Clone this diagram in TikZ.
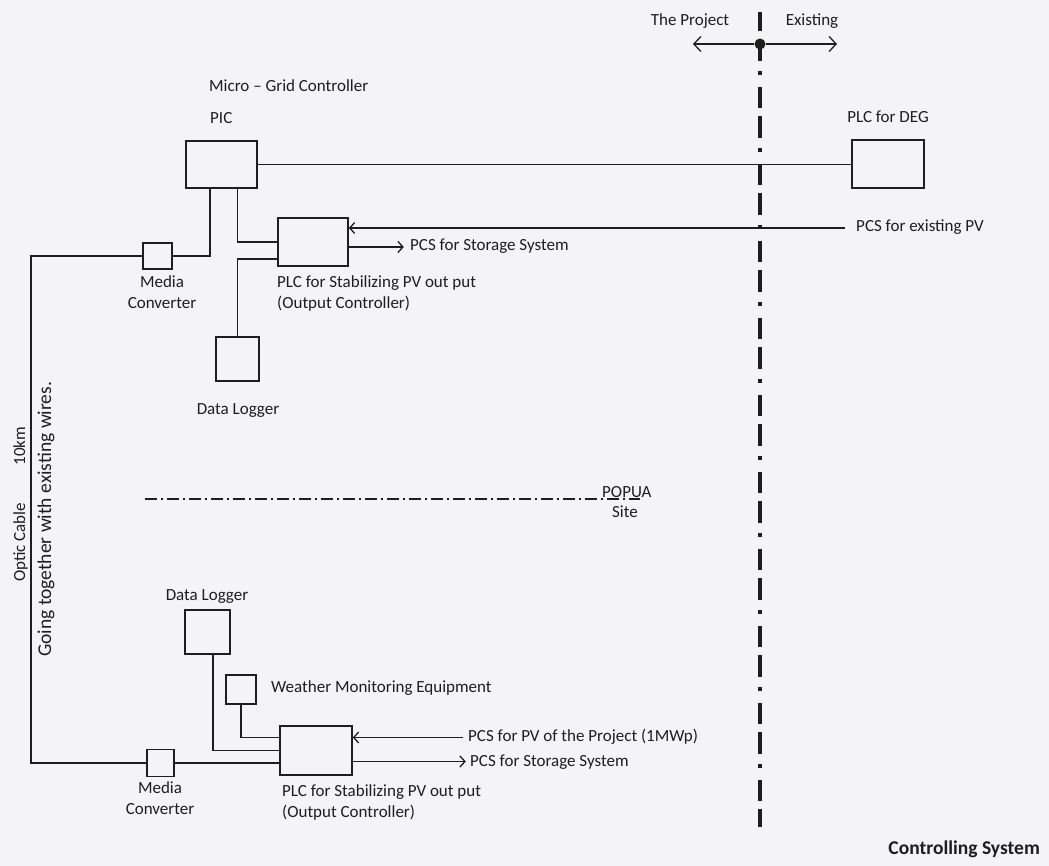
\documentclass[tikz,border=0pt]{standalone}
\usepackage{fontspec}
\setmainfont{Carlito}
\usetikzlibrary{arrows.meta}
\definecolor{ink}{HTML}{1E1E1E}
\definecolor{paper}{HTML}{F4F3F5}
\begin{document}
\begin{tikzpicture}[x=1pt,y=-1pt,
  every node/.style={inner sep=0pt, text=ink},
  lbl/.style={font=\fontsize{17}{21}\selectfont},
  unit/.style args={#1/#2}{draw=ink, line width=1.6pt, rectangle,
    minimum width=#1pt, minimum height=#2pt},
  wire/.style={draw=ink, line width=1.3pt},
  arr/.style={wire, -{Straight Barb[length=5pt,width=11pt]}},
  divider/.style={draw=ink, line width=4.5pt,
    dash pattern=on 4pt off 12pt on 21pt off 8pt on 22pt off 10pt, dash phase=18pt},
  siteline/.style={draw=ink, line width=1.2pt, dash pattern=on 12pt off 4pt on 2pt off 4pt}]

% page
\fill[paper] (0,0) rectangle (1049,866);

% project / existing boundary
\coordinate (dtop) at (760,12);
\coordinate (dbot) at (760,827);
\draw[divider] (dtop) -- (dbot);
\node[circle, fill=ink, minimum size=11pt] (hub) at (760,44) {};
\coordinate (dL) at (693,44);
\coordinate (dR) at (837,44);
\draw[wire, -{Straight Barb[length=7pt,width=15pt]}] (hub) -- (dL);
\draw[wire, -{Straight Barb[length=7pt,width=15pt]}] (hub) -- (dR);
\node[lbl, anchor=base] (tproj) at (690,26) {The Project};
\node[lbl, anchor=base] (texist) at (812,26) {Existing};

% upper equipment
\node[unit={71/47}] (pic) at (221.5,164.5) {};
\node[unit={72/48}] (deg) at (888,164) {};
\node[unit={70/48}] (plc1) at (313,242) {};
\node[unit={29/26}] (mc1) at (157.5,256) {};
\node[unit={43/44}] (dl1) at (237.5,359) {};

\node[lbl, anchor=base west] (tmgc) at (209,92) {Micro -- Grid Controller};
\node[lbl, anchor=base west] (tpic) at (210,124) {PIC};
\node[lbl, anchor=base] (tdeg) at (888,123) {PLC for DEG};
\node[lbl, anchor=base west] (texpv) at (856,232) {PCS for existing PV};
\node[lbl, anchor=base west] (tst1) at (410,251) {PCS for Storage System};
\node[lbl, anchor=base west, align=left] (tplc1) at (277,309)
  {PLC for Stabilizing PV out put\\(Output Controller)};
\node[lbl, anchor=base, align=center] (tmc1) at (162,309) {Media\\Converter};
\node[lbl, anchor=base] (tdl1) at (238,414) {Data Logger};

\draw[wire] (pic.east) -- (pic.east -| deg.west);
\draw[wire] ([xshift=-11.5pt]pic.south) |- (mc1.east);
\draw[wire] ([xshift=16pt]pic.south) |- (plc1.west);
\draw[wire] (dl1.north) |- ([yshift=-17pt]plc1.west);
\coordinate (exPV) at (845,228);
\draw[arr] (exPV) -- (exPV -| plc1.east);
\draw[arr] ([yshift=-5pt]plc1.east) -- ++(55,0);

% site boundary
\coordinate (sL) at (145,499);
\coordinate (sR) at (640,499);
\draw[siteline] (sL) -- (sR);
\node[lbl, anchor=base west] (tpopua) at (602,497) {POPUA};
\node[lbl, anchor=base] (tsite) at (625,517) {Site};

% optic cable
\coordinate (oc) at (31,0);
\node[unit={27/27}] (mc2) at (160.5,763) {};
\draw[wire] (mc1.west) -- (mc1.west -| oc) -- (mc2.west -| oc) -- (mc2.west);
\node[lbl, rotate=90, anchor=base west] (toc) at (25,582) {Optic Cable\hspace{2.2em}10km};
\node[lbl, font=\fontsize{19.5}{23}\selectfont, rotate=90, anchor=base west] (tgo) at (51,657) {Going together with existing wires.};

% lower equipment
\node[unit={45/44}] (dl2) at (207.5,632) {};
\node[unit={30/29}] (wm) at (241,689.5) {};
\node[unit={72/49}] (plc2) at (316,750.5) {};

\node[lbl, anchor=base] (tdl2) at (207,600) {Data Logger};
\node[lbl, anchor=base west] (twm) at (271,692) {Weather Monitoring Equipment};
\node[lbl, anchor=base west] (tpv) at (468,741) {PCS for PV of the Project (1MWp)};
\node[lbl, anchor=base west] (tst2) at (470,766) {PCS for Storage System};
\node[lbl, anchor=base west, align=left] (tplc2) at (282,817)
  {PLC for Stabilizing PV out put\\(Output Controller)};
\node[lbl, anchor=base, align=center] (tmc2) at (160,814) {Media\\Converter};

\draw[wire] (mc2.east) -- (mc2.east -| plc2.west);
\draw[wire] ([xshift=5.5pt]dl2.south) |- (plc2.west);
\draw[wire] (wm.south) |- ([yshift=13pt]plc2.west);
\coordinate (pvIn) at (463,737.5);
\draw[arr] (pvIn) -- (pvIn -| plc2.east);
\draw[arr] ([yshift=-11pt]plc2.east) -- ++(113,0);

% caption
\node[font=\fontsize{19.5}{23}\selectfont\bfseries, anchor=base east] (tcap) at (1040,854) {Controlling System};
\end{tikzpicture}
\end{document}
